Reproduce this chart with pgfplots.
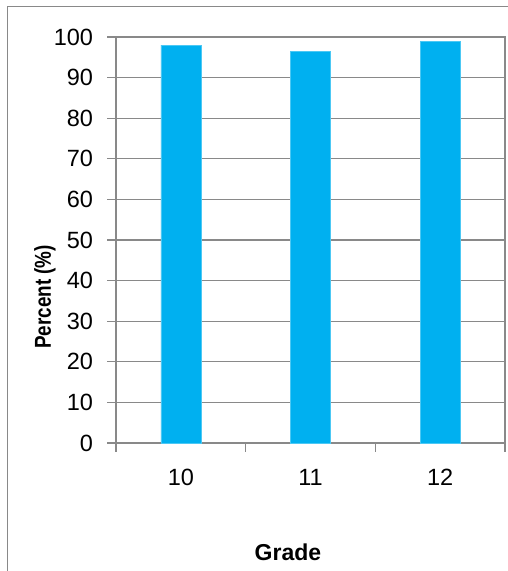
\documentclass[border=0pt]{standalone}
\usepackage{graphicx}
\usepackage{pgfplots}
\pgfplotsset{compat=1.18}
\usepackage{fontspec}
\setmainfont{Liberation Sans}
\definecolor{axgray}{HTML}{898989}
\definecolor{barblue}{HTML}{00B0F0}
\begin{document}
\begin{tikzpicture}[x=1pt,y=1pt]
\useasboundingbox (0,0) rectangle (508,571);
\draw[color=axgray, line width=1.3pt] (7.3,0) -- (7.3,564.5) -- (508,564.5);
\begin{axis}[at={(116pt,128pt)}, anchor=south west, scale only axis,
  width=389pt, height=406pt,
  xmin=0.5, xmax=3.5, ymin=0, ymax=100,
  ytick={0,10,...,100},
  xtick={0.5,1.5,2.5,3.5}, xticklabels={},
  extra x ticks={1,2,3}, extra x tick labels={10,11,12},
  extra x tick style={major tick length=0pt, tick label style={yshift=-23pt}},
  xtick pos=bottom, ytick pos=left,
  tick align=outside, major tick length=8.5pt,
  ymajorgrids, grid style={color=axgray, line width=1.3pt},
  axis line style={color=axgray, line width=1.3pt},
  tick style={color=axgray, line width=1.3pt},
  /pgf/number format/assume math mode=true,
  tick label style={font=\fontsize{23.5}{27}\selectfont, text=black},
  yticklabel style={xshift=-11pt},
  xlabel={Grade}, ylabel={\scalebox{0.82}[1]{Percent (\%)}},
  xlabel style={at={(axis description cs:0.442,-0.268)}, anchor=center, font=\fontsize{23}{27}\selectfont\bfseries},
  ylabel style={at={(axis description cs:-0.1825,0.36)}, anchor=center, font=\fontsize{23}{27}\selectfont\bfseries},
]
\addplot[ybar, bar width=40pt, fill=barblue, draw=barblue!70!white, line width=0.6pt]
  coordinates {(1,98.0) (2,96.4) (3,99.0)};
\end{axis}
\end{tikzpicture}
\end{document}
